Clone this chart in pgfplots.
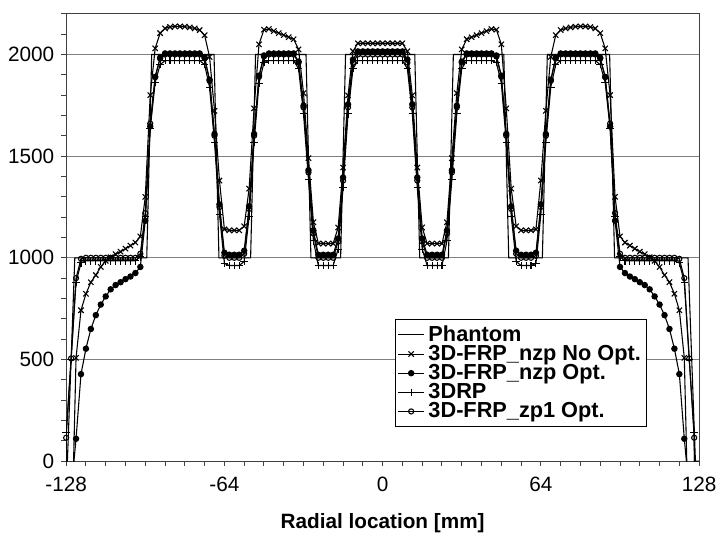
\documentclass[border=0pt]{standalone}
\usepackage{fontspec}
\setmainfont{Liberation Sans}
\usepackage{pgfplots}
\pgfplotsset{compat=1.18}
\usepackage{pgfplotstable}

\pgfplotstableread{
u a b c d
-130 -3000 -3000 -3000 -3000
-128 -3000 -3000 140 115
-126 -508 -150 500 505
-124 508 110 880 900
-122 742 428 975 995
-120 823 553 985 1000
-118 880 650 985 1000
-116 915 718 985 1000
-114 955 770 985 1000
-112 985 810 985 1000
-110 1003 845 985 1000
-108 1018 866 985 1000
-106 1030 880 985 1000
-104 1045 895 985 1000
-102 1060 908 985 1000
-100 1075 925 985 1000
-98 1105 955 1005 1020
-96 1300 1182 1202 1220
-94 1800 1646 1635 1660
-92 2030 1889 1862 1890
-90 2105 1984 1950 1980
-88 2128 2005 1970 2000
-86 2135 2005 1970 2000
-84 2138 2005 1970 2000
-82 2138 2005 1970 2000
-80 2137 2005 1970 2000
-78 2133 2005 1970 2000
-76 2128 2005 1970 2000
-74 2120 2005 1970 2000
-72 2095 1985 1950 1980
-70 1988 1876 1839 1870
-68 1723 1609 1567 1600
-66 1380 1263 1214 1250
-64 1140 1025 972 1010
-62 1135 1015 962 1000
-60 1135 1015 962 1000
-58 1135 1015 962 1000
-56 1155 1035 982 1020
-54 1340 1253 1204 1240
-52 1735 1609 1567 1600
-50 2050 1896 1859 1890
-48 2122 1995 1960 1990
-46 2125 2005 1970 2000
-44 2115 2005 1970 2000
-42 2105 2005 1970 2000
-40 2095 2005 1970 2000
-38 2085 2005 1970 2000
-36 2075 2005 1970 2000
-34 2025 1965 1930 1960
-32 1810 1748 1708 1740
-30 1490 1431 1385 1420
-28 1175 1134 1083 1120
-26 1070 1015 962 1000
-24 1070 1015 962 1000
-22 1070 1015 962 1000
-20 1070 1015 962 1000
-18 1149 1095 1043 1080
-16 1444 1395 1345 1380
-14 1799 1755 1708 1740
-12 2016 1975 1930 1960
-10 2055 2015 1970 2000
-8 2055 2015 1970 2000
-6 2055 2015 1970 2000
-4 2055 2015 1970 2000
-2 2055 2015 1970 2000
0 2055 2015 1970 2000
2 2055 2015 1970 2000
4 2055 2015 1970 2000
6 2055 2015 1970 2000
8 2055 2015 1970 2000
10 2016 1975 1930 1960
12 1799 1755 1708 1740
14 1444 1395 1345 1380
16 1149 1095 1043 1080
18 1070 1015 962 1000
20 1070 1015 962 1000
22 1070 1015 962 1000
24 1070 1015 962 1000
26 1175 1134 1083 1120
28 1490 1431 1385 1420
30 1810 1748 1708 1740
32 2025 1965 1930 1960
34 2075 2005 1970 2000
36 2085 2005 1970 2000
38 2095 2005 1970 2000
40 2105 2005 1970 2000
42 2115 2005 1970 2000
44 2125 2005 1970 2000
46 2122 1995 1960 1990
48 2050 1896 1859 1890
50 1735 1609 1567 1600
52 1340 1253 1204 1240
54 1155 1035 982 1020
56 1135 1015 962 1000
58 1135 1015 962 1000
60 1135 1015 962 1000
62 1140 1025 972 1010
64 1380 1263 1214 1250
66 1723 1609 1567 1600
68 1988 1876 1839 1870
70 2095 1985 1950 1980
72 2120 2005 1970 2000
74 2128 2005 1970 2000
76 2133 2005 1970 2000
78 2137 2005 1970 2000
80 2138 2005 1970 2000
82 2138 2005 1970 2000
84 2135 2005 1970 2000
86 2128 2005 1970 2000
88 2105 1984 1950 1980
90 2030 1889 1862 1890
92 1800 1646 1635 1660
94 1300 1182 1202 1220
96 1105 955 1005 1020
98 1075 925 985 1000
100 1060 908 985 1000
102 1045 895 985 1000
104 1030 880 985 1000
106 1018 866 985 1000
108 1003 845 985 1000
110 985 810 985 1000
112 955 770 985 1000
114 915 718 985 1000
116 880 650 985 1000
118 823 553 985 1000
120 742 428 975 995
122 508 110 880 900
124 -508 -150 500 505
126 -3000 -3000 140 115
128 -3000 -3000 -3000 -3000
}\profiles

\begin{document}
\begin{tikzpicture}
\begin{axis}[
  scale only axis, width=320.5pt, height=226.5pt,
  xmin=-128, xmax=128, ymin=0, ymax=2200,
  xtick={-128,-64,0,64,128}, minor x tick num=7,
  ytick={0,500,1000,1500,2000}, minor y tick num=4,
  extra y ticks={2100,2200}, extra y tick labels={}, extra y tick style={grid=none},
  xtick pos=bottom, ytick pos=left,
  tick align=outside, major tick length=2.5pt, minor tick length=2.5pt,
  tick style={black!75, line width=0.5pt},
  ymajorgrids, major grid style={black!50, line width=0.5pt},
  axis line style={black!75, line width=0.6pt},
  tick label style={font=\fontsize{10.5}{12}\selectfont},
  xticklabel style={yshift=-2pt},
  /pgf/number format/assume math mode=true,
  /pgf/number format/1000 sep={},
  xlabel={Radial location [mm]},
  xlabel style={font=\bfseries\fontsize{10.5}{12}\selectfont, yshift=-4pt},
  legend style={at={(0.52,0.318)}, anchor=north west, draw=black, line width=0.5pt,
    fill=white, font=\bfseries\fontsize{11}{12}\selectfont, inner sep=1pt, row sep=-3.5pt},
  legend cell align=left,
  legend image code/.code={\draw[mark repeat=2,mark phase=2,#1] plot coordinates {(0pt,0pt) (6.5pt,0pt) (13pt,0pt)};},
]
\addplot[black, line width=0.55pt, no markers] coordinates {
(-128,0) (-127.5,0) (-124.5,1000) (-95.4,1000) (-93.4,2000) (-68.2,2000) (-66.2,1000)
(-53.4,1000) (-51.4,2000) (-31,2000) (-29,1000) (-17,1000) (-15,2000) (13,2000) (15,1000)
(26.6,1000) (28.6,2000) (49,2000) (51,1000) (64.6,1000) (66.6,2000) (91.8,2000) (93.8,1000)
(123.5,1000) (126.5,0) (128,0)};
\addlegendentry{Phantom}
\addplot[black, line width=0.55pt, mark=x, mark size=1.9pt, mark options={solid}] table[x=u, y=a] {\profiles};
\addlegendentry{3D-FRP\_nzp No Opt.}
\addplot[black, line width=0.55pt, mark=*, mark size=1.35pt] table[x=u, y=b] {\profiles};
\addlegendentry{3D-FRP\_nzp Opt.}
\addplot[black, line width=0.55pt, mark=+, mark size=1.9pt] table[x=u, y=c] {\profiles};
\addlegendentry{3DRP}
\addplot[black, line width=0.55pt, mark=o, mark size=1.3pt, mark options={fill=white}] table[x=u, y=d] {\profiles};
\addlegendentry{3D-FRP\_zp1 Opt.}
\end{axis}
\path ([shift={(-33.5pt,-34pt)}]current axis.south west) ([shift={(7.5pt,7pt)}]current axis.north east);
\end{tikzpicture}
\end{document}
